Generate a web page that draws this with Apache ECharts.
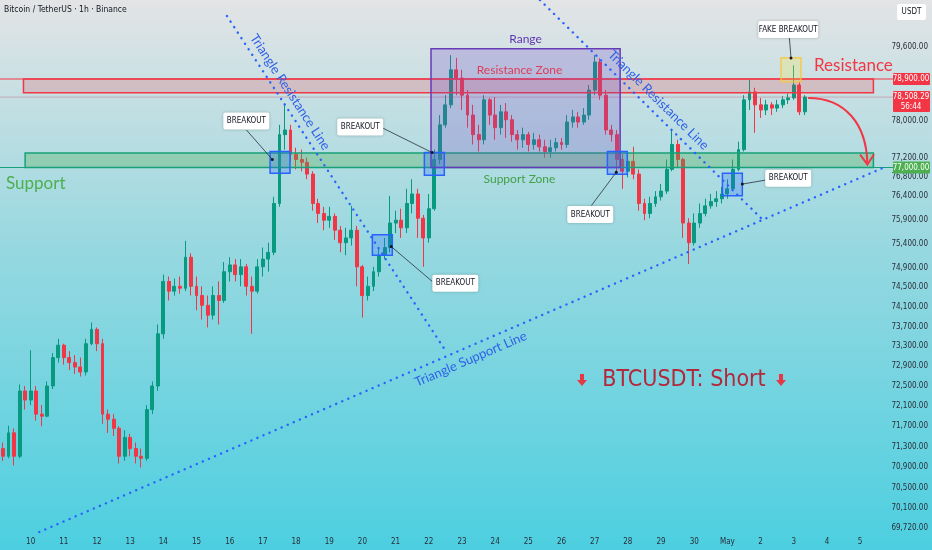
<!DOCTYPE html>
<html><head><meta charset="utf-8">
<script src="https://cdn.jsdelivr.net/npm/echarts@6/dist/echarts.min.js"></script>
<style>html,body{margin:0;padding:0;background:#fff}#c{width:932px;height:550px}</style>
</head><body><div id="c"></div>
<script>
// ---------- DATA ----------
// 4-hour slots starting Apr 9 04:00
const SLOT_COUNT = 160;
const START = Date.UTC(2025, 3, 9, 4);
const categories = [], dayLabels = [];
for (let k = 0; k < SLOT_COUNT; k++) {
  const d = new Date(START + k * 4 * 3600 * 1000);
  categories.push(d.toISOString().slice(5, 13));
  dayLabels.push(d.getUTCHours() === 0 ? (d.getUTCMonth() === 4 && d.getUTCDate() === 1 ? 'May' : String(d.getUTCDate())) : '');
}

const opens = [71260,71110,71570,71110,72400,72220,72400,71940,71900,72500,
73070,73320,73070,72970,72880,72780,73350,73640,73350,71940,
71840,71660,71110,71480,71260,71110,71070,72030,72500,73550,
74620,74420,74520,74480,75120,74520,74330,74130,73930,74330,
74230,74820,74960,74760,74920,74520,74420,74920,75080,75220,
76240,77700,77800,77280,77170,77110,76860,76240,76030,75890,
75970,75680,75420,75520,75680,74920,74330,74520,74820,75160,
75320,75830,75890,75730,76240,76440,75930,75520,76130,77170,
77910,78340,79100,78920,78550,78120,77700,77590,78450,78120,
77850,78190,78020,77700,77590,77700,77490,77590,77440,77340,
77420,77530,77490,77970,78080,77970,78120,78660,79270,78550,
77800,77700,77170,76920,77130,76860,76240,76030,76240,76380,
76500,76960,77490,77170,75830,75420,75830,76030,76190,76280,
76340,76440,76550,76960,77380,78450,78620,78340,78230,78340,
78270,78340,78450,78490,78770,78190];
const closes = [71110,71570,71110,72400,72220,72400,71940,71900,72500,73070,
73320,73070,72970,72880,72780,73350,73640,73350,71940,71840,
71660,71110,71480,71260,71110,71070,72030,72500,73550,74620,
74420,74520,74480,75120,74520,74330,74130,73930,74330,74230,
74820,74960,74760,74920,74520,74420,74920,75080,75220,76240,
77700,77800,77280,77170,77110,76860,76240,76030,75890,75970,
75680,75420,75520,75680,74920,74330,74520,74820,75160,75320,
75830,75890,75730,76240,76440,75930,75520,76130,77170,77910,
78340,79100,78920,78550,78120,77700,77590,78450,78120,77850,
78190,78020,77700,77590,77700,77490,77590,77440,77340,77420,
77530,77490,77970,78080,77970,78120,78660,79270,78550,77800,
77700,77170,76920,77130,76860,76240,76030,76240,76380,76500,
76960,77490,77170,75830,75420,75830,76030,76190,76280,76340,
76440,76550,76960,77380,78450,78620,78340,78230,78340,78270,
78340,78450,78490,78770,78190,78508.29];
const lows = [71020,71070,70930,71070,72030,72120,71810,71700,71880,72440,
72970,72930,72820,72740,72690,72710,73320,73200,71750,71570,
71510,70970,71020,71110,70970,70890,71020,71940,72400,73450,
74230,74330,74370,74420,74330,74030,73840,73680,73840,73740,
74180,74620,74620,74520,74330,73550,74370,74720,74820,75160,
76170,77380,77130,76960,76920,76750,76090,75830,75680,75730,
75480,75220,75160,75360,74520,73880,74230,74420,74720,75080,
75220,75620,75520,75620,76030,75520,74920,75420,76090,77070,
77850,78270,78550,78230,77850,77490,77340,77490,77910,77590,
77700,77630,77550,77380,77420,77340,77380,77340,77210,77210,
77340,77380,77420,77850,77850,77910,78020,78550,78450,77700,
77550,76860,76550,76790,76750,76090,75890,75930,76170,76300,
76440,76920,77000,75520,74980,75360,75730,75970,76130,76170,
76240,76340,76500,76920,77340,78230,77740,78060,78120,78120,
78190,78270,78360,78450,78120,78120];
const highs = [71380,71710,71660,72530,72500,73220,72500,72120,72590,73160,
73450,73350,73200,73120,73070,73450,73780,73680,73450,72030,
71940,71700,71620,71550,71380,71260,72120,72590,73740,74760,
74720,74680,74720,75460,75200,74720,74520,74330,74520,74620,
75020,75120,75080,75080,74980,74720,75080,75320,75420,76380,
77910,78380,77910,77420,77380,77210,76920,76340,76170,76170,
76030,75770,75730,76190,75770,74960,74720,74920,75320,75520,
76400,76090,76130,76550,76750,76550,76000,76440,77380,78120,
78550,79420,79360,79100,78660,78340,77910,78550,78490,78510,
78340,78380,78120,77800,77850,77760,77740,77700,77590,77590,
77630,77630,78120,78230,78190,78270,78770,79420,79350,78660,
77910,77800,77280,77280,77440,76960,76340,76380,76500,76650,
77170,77800,77590,77210,75930,76030,76240,76340,76440,76500,
76590,76750,77170,77550,78550,78880,78710,78490,78450,78400,
78450,78530,78580,79200,78840,78550];

const yTickLabels = [79600,78000,77200,76800,76400,75900,75400,74900,74500,74100,73700,73300,72900,72500,72100,71700,71300,70900,70500,70100,69720];
const resistanceLevel = 78900, supportLevel = 77000, lastPrice = 78508.29, countdown = '56:44';

// ---------- ANNOTATIONS (slot, price) ----------
const resistanceZone = {from: 3.7, to: 157.4, low: 78600, high: 78900};
const supportZone = {from: 4.0, to: 157.4, low: 77000, high: 77310};
const rangeBox = {from: 77.4, to: 111.6, low: 77000, high: 79560};
const triResist1 = [[40.5, 80282], [80.3, 73162]];
const triResist2 = [[97.1, 80637], [137.8, 75851]];
const triSupport = [[6.55, 69640], [159.5, 77010]];
const breakoutBoxes = [
  [48.3, 51.9, 76877, 77338], [76.2, 79.8, 76835, 77317], [66.8, 70.4, 75160, 75584],
  [109.3, 112.9, 76856, 77338], [130.1, 133.7, 76400, 76877]
];
const fakeBox = [140.7, 144.3, 78835, 79360];
const callouts = [
  {text: 'BREAKOUT', at: [44.0, 77995], from: [44.0, 77803], to: [48.7, 77170]},
  {text: 'BREAKOUT', at: [64.6, 77866], from: [68.6, 77845], to: [77.6, 77317]},
  {text: 'BREAKOUT', at: [81.8, 74582], from: [77.6, 74622], to: [70.2, 75341]},
  {text: 'BREAKOUT', at: [106.2, 76010], from: [106.4, 76195], to: [110.9, 76898]},
  {text: 'BREAKOUT', at: [142.0, 76773], from: [137.8, 76731], to: [133.7, 76648]},
  {text: 'FAKE BREAKOUT', at: [142.0, 79983], from: [142.2, 79818], to: [142.5, 79360]}
];
const curveArrow = [[145.6, 78490], [152.3, 78490], [156.1, 77930], [156.3, 77107]];

// ---------- CHART ----------
const NARROW = "'Liberation Sans Narrow','DejaVu Sans Condensed',sans-serif";
const DRAW = "Lato,'Open Sans',sans-serif";
const chart = echarts.init(document.getElementById('c'), null, {renderer: 'canvas'});
chart.setOption({
  animation: false,
  backgroundColor: {type: 'linear', x: 0, y: 0, x2: 0, y2: 1, colorStops: [
    {offset: 0, color: '#e3e4e5'}, {offset: 0.45, color: '#97d8e0'}, {offset: 1, color: '#4ccfe0'}]},
  grid: {left: 0, right: 47, top: 0, bottom: 17},
  xAxis: [{
    type: 'category', data: categories, boundaryGap: true,
    axisLine: {show: false}, axisTick: {show: false}, splitLine: {show: false},
    axisLabel: {interval: 0, margin: 5, fontSize: 8, color: '#2a2e39', fontFamily: NARROW,
      formatter: (v, i) => dayLabels[i]}
  }, {type: 'value', min: -0.5, max: SLOT_COUNT - 0.5, show: false}],
  yAxis: {type: 'log', logBase: 10, min: 69622, max: 80637, position: 'right',
    axisLine: {show: false}, axisTick: {show: false}, axisLabel: {show: false}, splitLine: {show: false}},
  series: [{
    type: 'candlestick', xAxisIndex: 0, yAxisIndex: 0, barWidth: 3.4,
    data: opens.map((o, i) => [o, closes[i], lows[i], highs[i]]),
    itemStyle: {color: '#089981', color0: '#f23645', borderColor: '#089981', borderColor0: '#f23645', borderWidth: 1}
  }]
});

const P = (s, v) => chart.convertToPixel({xAxisIndex: 1, yAxisIndex: 0}, [s, v]);
const PY = v => chart.convertToPixel({yAxisIndex: 0}, v);
const fmt = v => v.toLocaleString('en-US', {minimumFractionDigits: 2, maximumFractionDigits: 2});
const els = [];
const Z = 10;

function rectFrom(x0, x1, lo, hi, fill, stroke, lw) {
  const a = P(x0, hi), b = P(x1, lo);
  els.push({type: 'rect', z: Z, shape: {x: a[0], y: a[1], width: b[0] - a[0], height: b[1] - a[1]},
    style: {fill, stroke, lineWidth: lw}});
}
// horizontal levels
[[resistanceLevel, '#f23645', 1.2], [lastPrice, 'rgba(200,70,110,0.35)', 1], [supportLevel, '#17a07a', 1.2]].forEach(([v, c, w]) => {
  const y = PY(v);
  els.push({type: 'line', z: Z, shape: {x1: 0, y1: y, x2: 893, y2: y}, style: {stroke: c, lineWidth: w}});
});
// zones
rectFrom(resistanceZone.from, resistanceZone.to, resistanceZone.low, resistanceZone.high, 'rgba(242,54,69,0.2)', '#f23645', 1.5);
rectFrom(supportZone.from, supportZone.to, supportZone.low, supportZone.high, 'rgba(76,175,80,0.32)', '#17a07a', 1.5);
rectFrom(rangeBox.from, rangeBox.to, rangeBox.low, rangeBox.high, 'rgba(120,80,200,0.25)', '#673ab7', 1.5);
breakoutBoxes.forEach(b => rectFrom(b[0], b[1], b[2], b[3], 'rgba(41,98,255,0.25)', '#2962ff', 1.5));
rectFrom(fakeBox[0], fakeBox[1], fakeBox[2], fakeBox[3], 'rgba(255,235,59,0.25)', '#f9c534', 1.2);

// dotted trend lines + labels
function dotted(pts) {
  const a = P(pts[0][0], pts[0][1]), b = P(pts[1][0], pts[1][1]);
  els.push({type: 'line', z: Z, shape: {x1: a[0], y1: a[1], x2: b[0], y2: b[1]},
    style: {stroke: '#2962ff', lineWidth: 2.4, lineDash: [0.1, 6.5], lineCap: 'round'}});
  return Math.atan2(-(b[1] - a[1]), b[0] - a[0]);
}
function dataText(txt, at, opt) {
  const p = P(at[0], at[1]);
  els.push(Object.assign({type: 'text', z: Z + 2, x: p[0], y: p[1]}, opt,
    {style: Object.assign({text: txt, align: 'center', verticalAlign: 'middle'}, opt.style)}));
}
const r1 = dotted(triResist1), r2 = dotted(triResist2), r3 = dotted(triSupport);
const blueText = {fontSize: 13, fill: '#2f5fe8', fontFamily: DRAW};
dataText('Triangle Resistance Line', [51.9, 78618], {rotation: r1, style: blueText});
dataText('Triangle Resistance Line', [118.5, 78446], {rotation: r2, style: blueText});
dataText('Triangle Support Line', [84.6, 73040], {rotation: r3, style: blueText});

// zone labels
dataText('Range', [94.5, 79770], {style: {fontSize: 12, fill: '#5e35b1', fontFamily: DRAW}});
dataText('Resistance Zone', [93.4, 79096], {style: {fontSize: 12, fill: '#dd3b58', fontFamily: DRAW}});
dataText('Support Zone', [93.4, 76752], {style: {fontSize: 12, fill: '#43a047', fontFamily: DRAW}});

// callouts
callouts.forEach(c => {
  const a = P(c.from[0], c.from[1]), b = P(c.to[0], c.to[1]), m = P(c.at[0], c.at[1]);
  els.push({type: 'line', z: Z, shape: {x1: a[0], y1: a[1], x2: b[0], y2: b[1]}, style: {stroke: '#2a2e39', lineWidth: 0.8}});
  els.push({type: 'circle', z: Z, shape: {cx: b[0], cy: b[1], r: 1.5}, style: {fill: '#131722'}});
  const w = c.text.length > 8 ? 60 : 46, h = 17;
  els.push({type: 'rect', z: Z + 1, shape: {x: m[0] - w / 2, y: m[1] - h / 2, width: w, height: h, r: 2},
    style: {fill: '#ffffff', shadowBlur: 3, shadowColor: 'rgba(0,0,0,0.25)'}});
  els.push({type: 'text', z: Z + 2, x: m[0], y: m[1], style: {text: c.text, align: 'center', verticalAlign: 'middle',
    fontSize: 8, fill: '#131722', fontFamily: NARROW}});
});

// curved red arrow
{
  const p = curveArrow.map(q => P(q[0], q[1]));
  els.push({type: 'bezierCurve', z: Z, shape: {x1: p[0][0], y1: p[0][1], cpx1: p[1][0], cpy1: p[1][1],
    cpx2: p[2][0], cpy2: p[2][1], x2: p[3][0], y2: p[3][1]}, style: {stroke: '#f23645', lineWidth: 2, fill: null}});
  const dx = p[3][0] - p[2][0], dy = p[3][1] - p[2][1], L = Math.hypot(dx, dy);
  const ux = dx / L, uy = dy / L, nx = -uy, ny = ux;
  const tip = [p[3][0] + ux * 2, p[3][1] + uy * 2];
  els.push({type: 'polyline', z: Z, shape: {points: [
    [tip[0] - ux * 10 + nx * 7, tip[1] - uy * 10 + ny * 7], tip, [tip[0] - ux * 10 - nx * 7, tip[1] - uy * 10 - ny * 7]]},
    style: {stroke: '#f23645', lineWidth: 2, fill: null}});
}

// free texts
els.push({type: 'text', z: Z + 2, x: 4, y: 10, style: {text: 'Bitcoin / TetherUS · 1h · Binance', fontSize: 8.5, fill: '#131722', fontFamily: NARROW, verticalAlign: 'middle'}});
els.push({type: 'text', z: Z + 2, x: 6, y: 184, style: {text: 'Support', fontSize: 17, fill: '#4caf50', fontFamily: DRAW, verticalAlign: 'middle'}});
els.push({type: 'text', z: Z + 2, x: 814, y: 66, style: {text: 'Resistance', fontSize: 17, fill: '#f23645', fontFamily: DRAW, verticalAlign: 'middle'}});
els.push({type: 'text', z: Z + 2, x: 684, y: 380, style: {text: 'BTCUSDT: Short', fontSize: 23, fill: '#b3283a', fontFamily: NARROW, align: 'center', verticalAlign: 'middle'}});
[[582, 380], [781, 380]].forEach(([x, y]) => {
  els.push({type: 'polygon', z: Z + 2, shape: {points: [[x - 2, y - 6], [x + 2, y - 6], [x + 2, y], [x + 5, y], [x, y + 6], [x - 5, y], [x - 2, y]]},
    style: {fill: '#e53945'}});
});

// price scale labels
yTickLabels.forEach(v => {
  els.push({type: 'text', z: Z + 2, x: 928, y: PY(v), style: {text: fmt(v), align: 'right', verticalAlign: 'middle', fontSize: 8, fill: '#2a2e39', fontFamily: NARROW}});
});
function badge(v, color, lines, h) {
  const y = PY(v);
  els.push({type: 'rect', z: Z + 3, shape: {x: 893, y: y - 6, width: 37, height: h, r: 1}, style: {fill: color}});
  els.push({type: 'text', z: Z + 4, x: 911, y: y - 6 + h / 2, style: {text: lines, align: 'center', verticalAlign: 'middle', fontSize: 8, lineHeight: 10, fill: '#ffffff', fontFamily: NARROW}});
}
badge(resistanceLevel, '#f23645', fmt(resistanceLevel), 12);
badge(lastPrice, '#f23645', fmt(lastPrice) + '\n' + countdown, 21);
badge(supportLevel, '#4caf50', fmt(supportLevel), 12);
els.push({type: 'rect', z: Z + 3, shape: {x: 897, y: 4, width: 29, height: 16, r: 2}, style: {fill: '#ffffff'}});
els.push({type: 'text', z: Z + 4, x: 911.5, y: 12, style: {text: 'USDT', align: 'center', verticalAlign: 'middle', fontSize: 8, fill: '#131722', fontFamily: NARROW}});

chart.setOption({graphic: {elements: els}});
</script>
</body></html>
